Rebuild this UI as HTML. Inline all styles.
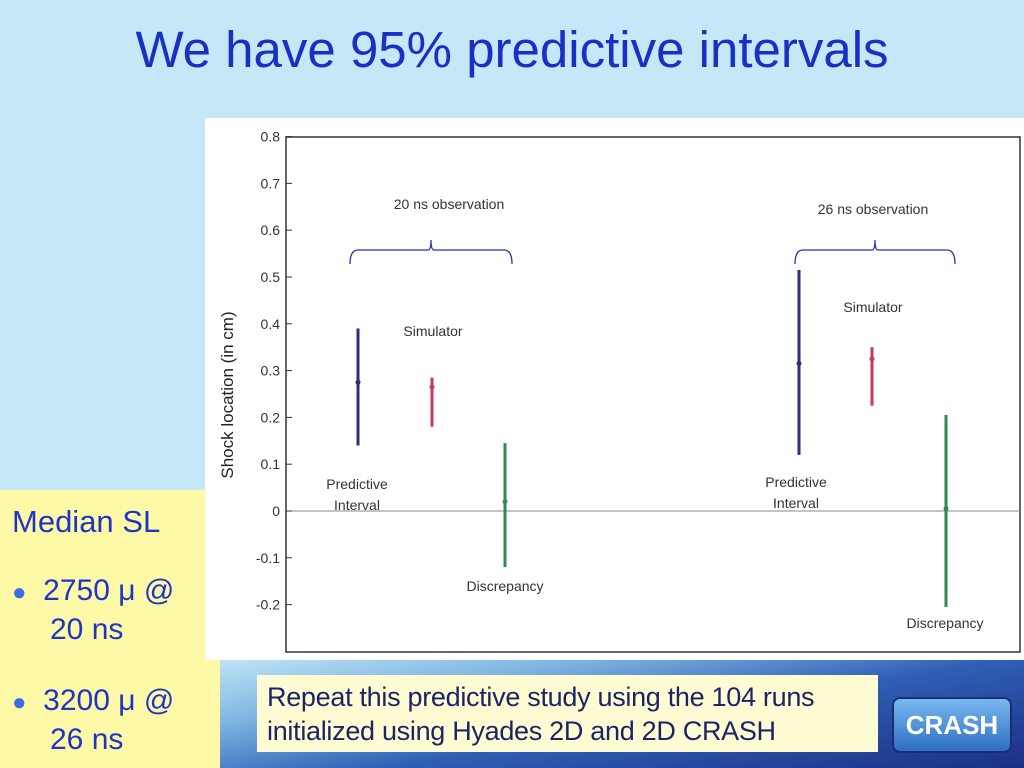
<!DOCTYPE html>
<html><head><meta charset="utf-8"><style>
body{margin:0;width:1024px;height:768px;overflow:hidden;background:#c6e7f8;font-family:"Liberation Sans",sans-serif;position:relative}
.abs{position:absolute}
</style></head><body>
<div class="abs" style="left:0;width:1024px;top:20px;text-align:center;font-size:51px;color:#1a30c4">We have 95% predictive intervals</div>
<div class="abs" style="left:0;top:490px;width:220px;height:278px;background:#fdf9a6">
  <div style="position:absolute;left:12px;top:14px;font-size:31px;color:#1f35c8">Median SL</div>
  <div style="position:absolute;left:12px;top:82px;font-size:30px;color:#1f35c8;line-height:37px"><span style="color:#3b6fe0;font-size:24px">●</span>&nbsp; 2750 μ @<br><span style="padding-left:38px">20 ns</span></div>
  <div style="position:absolute;left:12px;top:192px;font-size:30px;color:#1f35c8;line-height:37px"><span style="color:#3b6fe0;font-size:24px">●</span>&nbsp; 3200 μ @<br><span style="padding-left:38px">26 ns</span></div>
</div>
<div class="abs" style="left:220px;top:660px;width:804px;height:108px;background:linear-gradient(170deg,#bfe3f6 0%,#7fb6e2 25%,#2f5fb5 55%,#1c2f86 100%)"></div>
<div class="abs" style="left:257px;top:675px;width:621px;height:77px;background:#fffbd2;font-size:27px;color:#1c2468;line-height:34px;padding:5px 0 0 10px;box-sizing:border-box;letter-spacing:-0.3px">Repeat this predictive study using the 104 runs<br>initialized using Hyades 2D and 2D CRASH</div>
<div class="abs" style="left:892px;top:697px;width:116px;height:52px;border-radius:8px;background:linear-gradient(#7ab8ee,#2e6fc4);border:2px solid #1a2f70;color:#fff;font-size:26px;font-weight:bold;text-align:center;line-height:52px">CRASH</div>
<svg class="abs" style="left:0;top:0" width="1024" height="768">
<rect x="205" y="118" width="819" height="542" fill="#fff"/>
<g id="g"></g>
</svg>
<script>
const categories=["PI-20","Sim-20","Disc-20","PI-26","Sim-26","Disc-26"];
const lows=[0.14,0.18,-0.12,0.12,0.225,-0.205];
const highs=[0.39,0.285,0.145,0.515,0.35,0.205];
const centers=[0.275,0.265,0.02,0.315,0.325,0.005];
const xpos=[358,432,505,799,872,946];
const colors=["#2b2f78","#c63a5c","#2f8a4f","#2b2f78","#c63a5c","#2f8a4f"];
const ticks=[0.8,0.7,0.6,0.5,0.4,0.3,0.2,0.1,0,-0.1,-0.2];
const tickLabels=["0.8","0.7","0.6","0.5","0.4","0.3","0.2","0.1","0","-0.1","-0.2"];
const y=v=>511-v*468;
const g=document.getElementById('g');
const NS="http://www.w3.org/2000/svg";
function mk(t,a){const e=document.createElementNS(NS,t);for(const k in a)e.setAttribute(k,a[k]);g.appendChild(e);return e;}
let f=mk('rect',{x:286,y:137,width:734,height:515,fill:'none',stroke:'#333','stroke-width':1.5});


let z=mk('line',{x1:286,x2:1020,y1:y(0),y2:y(0),stroke:'#888','stroke-width':1});


ticks.forEach((t,i)=>{
  mk('line',{x1:286,x2:292,y1:y(t),y2:y(t),stroke:'#333'});
  const tx=mk('text',{x:280,y:y(t)+5,'text-anchor':'end','font-size':14,fill:'#333'});tx.textContent=tickLabels[i];
  
  
});
let yt=mk('text',{x:0,y:0,transform:'translate(233,395) rotate(-90)','text-anchor':'middle','font-size':17,fill:'#222'});yt.textContent='Shock location (in cm)';


categories.forEach((c,i)=>{
  const l=mk('line',{x1:xpos[i],x2:xpos[i],y1:y(lows[i]),y2:y(highs[i]),stroke:colors[i],'stroke-width':3});
  
  
  const p=mk('circle',{cx:xpos[i],cy:y(centers[i]),r:2.5,fill:colors[i]});
  
  
});
function brace(x1,x2,yy,name){const m=(x1+x2)/2;const b=mk('path',{d:`M${x1},${yy+14} Q${x1},${yy} ${x1+8},${yy} L${m-3},${yy} Q${m},${yy} ${m},${yy-10} Q${m},${yy} ${m+3},${yy} L${x2-8},${yy} Q${x2},${yy} ${x2},${yy+14}`,fill:'none',stroke:'#2233aa','stroke-width':1.3});

}
brace(350,512,250,'brace-20ns');brace(795,955,250,'brace-26ns');
const labels=[[449,209,'20 ns observation'],[873,214,'26 ns observation'],[433,336,'Simulator'],[873,312,'Simulator'],[357,489,'Predictive'],[357,510,'Interval'],[796,487,'Predictive'],[796,508,'Interval'],[505,591,'Discrepancy'],[945,628,'Discrepancy']];
labels.forEach(L=>{const t=mk('text',{x:L[0],y:L[1],'text-anchor':'middle','font-size':14,fill:'#333'});t.textContent=L[2];

});
</script>
</body></html>
